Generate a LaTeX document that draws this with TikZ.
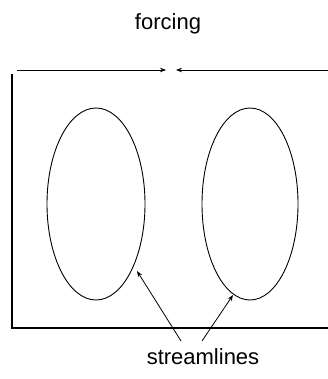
\documentclass[tikz,border=0pt]{standalone}
\usepackage{fontspec}
\setmainfont{Liberation Sans}
\usetikzlibrary{arrows.meta,shapes.geometric}
\begin{document}
\begin{tikzpicture}[x=1pt,y=-1pt,
  wall/.style={line width=2pt},
  stream/.style={line width=0.9pt},
  ptr/.style={line width=0.8pt,-{Stealth[length=6pt,width=4.5pt]}},
  lbl/.style={font=\fontsize{22}{26}\selectfont,inner sep=0pt}]
\useasboundingbox (0,0) rectangle (328,379);
\node[lbl] (forcing) at (168,24) {forcing};
\node[lbl,anchor=north] (stream) at (203,348) {streamlines};
\coordinate (fl) at (17,70);
\coordinate (fm1) at (166,70);
\coordinate (fr) at (328,70);
\coordinate (fm2) at (176,70);
\draw[ptr] (fl) -- (fm1);
\draw[ptr] (fr) -- (fm2);
\coordinate (wt) at (12,74);
\coordinate (wb) at (12,328);
\coordinate (br) at (328,328);
\draw[wall] (wt) -- (wb) -- (br);
\node[stream,draw,ellipse,minimum width=98pt,minimum height=192pt,inner sep=0pt] (e1) at (96,204) {};
\node[stream,draw,ellipse,minimum width=96pt,minimum height=192pt,inner sep=0pt] (e2) at (250,204) {};
\coordinate (s1) at (181,341);
\coordinate (s2) at (202,341);
\coordinate (t1) at (137,271);
\coordinate (t2) at (233,295);
\draw[ptr] (s1) -- (t1);
\draw[ptr] (s2) -- (t2);
\end{tikzpicture}
\end{document}
